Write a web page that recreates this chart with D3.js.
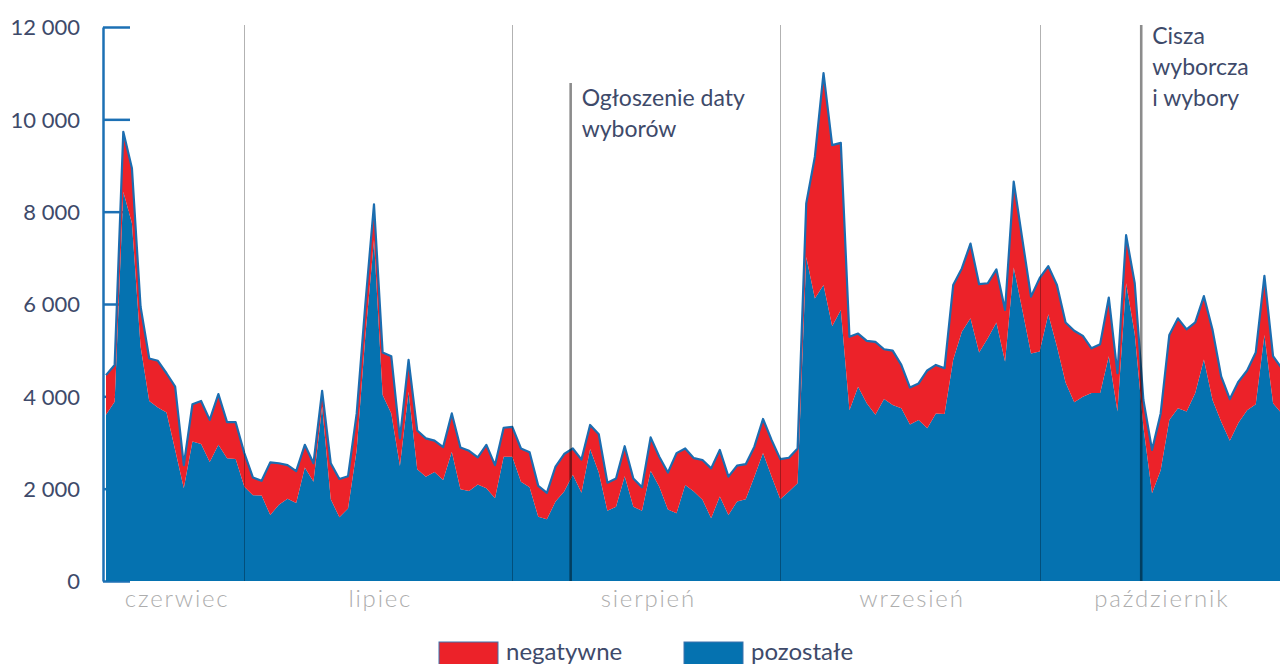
<!DOCTYPE html>
<html>
<head>
<meta charset="utf-8">
<script src="https://cdn.jsdelivr.net/npm/d3@7"></script>
<style>
  body { margin: 0; background: #fff; }
  svg { display: block; font-family: Lato, "Open Sans", sans-serif; }
</style>
</head>
<body>
<svg width="1280" height="664"></svg>
<script>
// daily values, 15 June - 29 October 2019
var startDay = "2019-06-15";
var negatywne = [860, 800, 1300, 1190, 860, 920, 1010, 850, 1370, 500,
  810, 930, 910, 1100, 780, 800, 730, 380, 320, 1140,
  900, 730, 690, 490, 400, 340, 780, 830, 700, 790,
  700, 770, 920, 1240, 600, 690, 840, 830, 680, 710,
  830, 900, 870, 590, 940, 720, 630, 650, 720, 760,
  670, 570, 760, 810, 570, 720, 520, 830, 610, 610,
  650, 610, 510, 720, 650, 800, 1300, 790, 720, 860,
  1080, 1010, 830, 780, 760, 650, 740, 790, 870, 730,
  750, 1160, 3070, 4590, 3920, 3620, 1590, 1150, 1350, 1580,
  1080, 1180, 940, 800, 790, 1250, 1050, 990, 1620, 1370,
  1620, 1480, 1190, 1150, 1120, 1860, 1530, 1230, 1590, 1040,
  1330, 1300, 1550, 1320, 970, 1060, 1270, 830, 1040, 1100,
  580, 940, 1230, 1840, 1950, 1780, 1530, 1370, 1520, 980,
  900, 890, 860, 1120, 1280, 1020, 980];
var pozostale = [3600, 3880, 8430, 7750, 5080, 3900, 3760, 3650, 2840, 2010,
  3020, 2970, 2580, 2950, 2660, 2640, 2040, 1860, 1850, 1430,
  1650, 1780, 1690, 2460, 2150, 3780, 1770, 1380, 1570, 2840,
  5300, 7390, 4030, 3630, 2490, 4100, 2420, 2260, 2360, 2190,
  2800, 1990, 1950, 2090, 2010, 1790, 2690, 2690, 2150, 2030,
  1390, 1340, 1720, 1940, 2300, 1910, 2860, 2350, 1520, 1610,
  2270, 1610, 1520, 2390, 2040, 1550, 1470, 2080, 1940, 1760,
  1360, 1830, 1430, 1720, 1770, 2260, 2770, 2260, 1770, 1940,
  2120, 7020, 6120, 6410, 5520, 5870, 3700, 4210, 3850, 3600,
  3940, 3810, 3740, 3390, 3490, 3310, 3630, 3620, 4790, 5400,
  5690, 4950, 5260, 5600, 4750, 6790, 5870, 4930, 4970, 5780,
  5080, 4300, 3870, 3990, 4070, 4070, 4870, 3670, 6450, 5350,
  3340, 1900, 2400, 3490, 3740, 3670, 4070, 4800, 3920, 3450,
  3040, 3430, 3700, 3830, 5330, 3850, 3630];
var months = ["czerwiec", "lipiec", "sierpień", "wrzesień", "październik"];
var yTicks = [0, 2000, 4000, 6000, 8000, 10000, 12000];
var annotations = [
  { date: "2019-08-07T18:00", lines: ["Ogłoszenie daty", "wyborów"], top: 83, baseline: 106 },
  { date: "2019-10-12T18:00", lines: ["Cisza", "wyborcza", "i wybory"], top: 25, baseline: 44 }
];

var blue = "#0572b0", red = "#ec2229", ink = "#3e4a6a";

var parse = d3.utcParse("%Y-%m-%d"),
    parseT = d3.utcParse("%Y-%m-%dT%H:%M");
var t0 = parse(startDay);
var data = pozostale.map(function (v, i) {
  return { date: d3.utcDay.offset(t0, i), pozostale: v, negatywne: negatywne[i] };
});

var svg = d3.select("svg");
var x = d3.scaleUtc()
    .domain([t0, data[data.length - 1].date])
    .range([106, 1281.7]);
var y = d3.scaleLinear().domain([0, 12000]).range([581, 27]);

var fmt = d3.formatLocale({ decimal: ",", thousands: "\u00a0", grouping: [3], currency: ["", " zł"] }).format(",");

// y axis (ticks pointing inward, under the areas)
var ax = svg.append("g")
    .attr("transform", "translate(103,0)")
    .call(d3.axisLeft(y).tickValues(yTicks).tickSize(-27).tickSizeOuter(0).tickPadding(23).tickFormat(fmt));
ax.select(".domain").attr("stroke", "#1c70b4").attr("stroke-width", 2.5);
ax.selectAll(".tick line").attr("stroke", "#1c70b4").attr("stroke-width", 2.5);
ax.selectAll(".tick text")
    .attr("fill", ink)
    .attr("font-size", 22)
    .attr("font-family", "Lato, sans-serif")
    .attr("dy", "0.36em");

var stack = d3.stack().keys(["pozostale", "negatywne"]);
var series = stack(data);

var area = d3.area()
    .x(d => x(d.data.date))
    .y0(d => y(d[0]))
    .y1(d => y(d[1]));

svg.append("g").selectAll("path")
    .data(series)
    .join("path")
    .attr("fill", d => d.key == "pozostale" ? blue : red)
    .attr("d", area);

// outline on top of the stack
svg.append("path")
    .datum(series[1])
    .attr("fill", "none")
    .attr("stroke", "#1b6db0")
    .attr("stroke-width", 2.2)
    .attr("stroke-linejoin", "round")
    .attr("d", d3.line().x(d => x(d.data.date)).y(d => y(d[1])));

// month separators and labels
var monthStarts = d3.utcMonth.range(d3.utcMonth.floor(t0), d3.utcMonth.offset(d3.utcMonth.floor(data[data.length - 1].date), 1));
svg.append("g").selectAll("line")
    .data(monthStarts.slice(1))
    .join("line")
    .attr("x1", d => Math.round(x(d)) + 0.5)
    .attr("x2", d => Math.round(x(d)) + 0.5)
    .attr("y1", 25)
    .attr("y2", 581)
    .attr("stroke", "#000")
    .attr("stroke-opacity", 0.3)
    .attr("stroke-width", 1);

svg.append("g").selectAll("text")
    .data(monthStarts)
    .join("text")
    .attr("x", function (d, i) {
      var a = Math.max(x(d), 106), b = Math.min(x(d3.utcMonth.offset(d, 1)), 1280);
      return (a + b) / 2 + 2;
    })
    .attr("y", 607)
    .attr("text-anchor", "middle")
    .attr("fill", "#adadad")
    .attr("font-size", 24)
    .attr("font-weight", 300)
    .attr("letter-spacing", 1.8)
    .text((d, i) => months[i]);

// annotations
annotations.forEach(function (a) {
  var ax0 = x(parseT(a.date));
  svg.append("line")
      .attr("x1", ax0).attr("x2", ax0)
      .attr("y1", a.top).attr("y2", 581)
      .attr("stroke", "#000")
      .attr("stroke-opacity", 0.45)
      .attr("stroke-width", 2.6);
  svg.append("text")
      .attr("fill", ink)
      .attr("font-size", 23)
      .selectAll("tspan")
      .data(a.lines)
      .join("tspan")
      .attr("x", ax0 + 11)
      .attr("y", (d, i) => a.baseline + i * 31)
      .text(d => d);
});

// legend
var legend = [
  { label: "negatywne", color: red, x: 439 },
  { label: "pozostałe", color: blue, x: 684 }
];
var lg = svg.append("g").selectAll("g")
    .data(legend)
    .join("g")
    .attr("transform", d => "translate(" + d.x + ",642)");
lg.append("rect")
    .attr("width", 59)
    .attr("height", 24)
    .attr("fill", d => d.color)
    .attr("stroke", "#3d72ad")
    .attr("stroke-width", 1);
lg.append("text")
    .attr("x", 67)
    .attr("y", 18)
    .attr("fill", ink)
    .attr("font-size", 24)
    .text(d => d.label);
</script>
</body>
</html>
